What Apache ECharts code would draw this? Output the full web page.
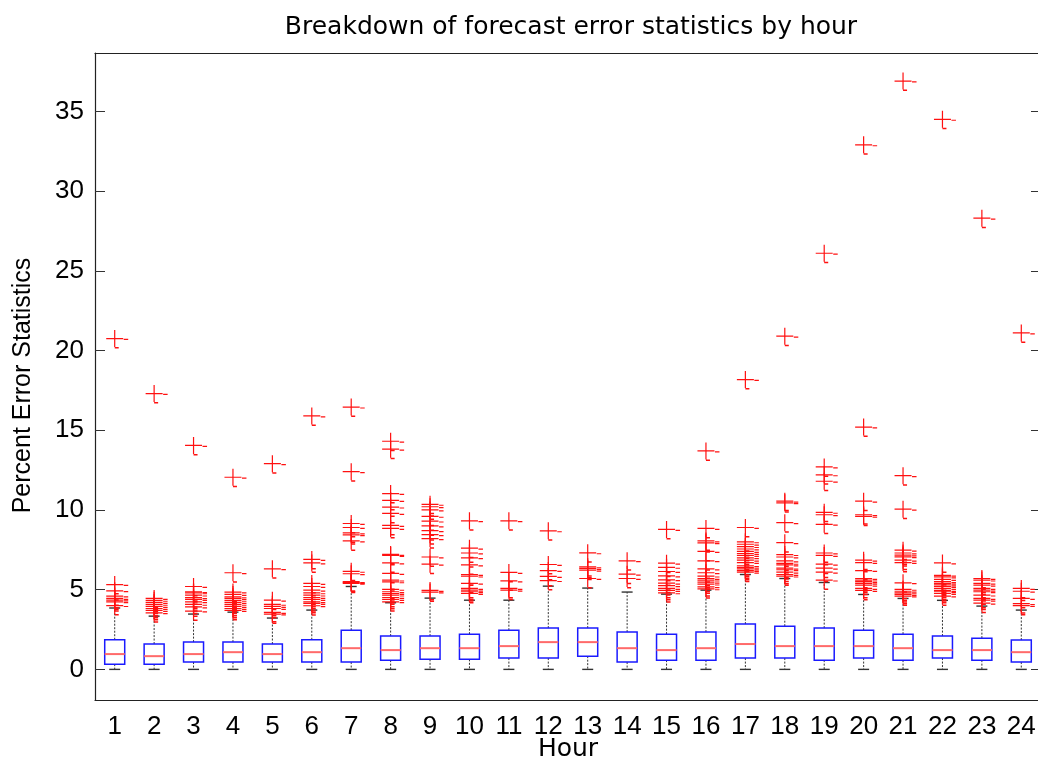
<!DOCTYPE html>
<html>
<head>
<meta charset="utf-8">
<script src="https://cdn.jsdelivr.net/npm/echarts@6/dist/echarts.min.js"></script>
<style>
html,body{margin:0;padding:0;background:#fff;width:1038px;height:763px;overflow:hidden;}
#chart{width:1038px;height:763px;overflow:hidden;}
</style>
</head>
<body>
<div id="chart"></div>
<script>
const hours = ['1','2','3','4','5','6','7','8','9','10','11','12','13','14','15','16','17','18','19','20','21','22','23','24'];
const yTicks = [0, 5, 10, 15, 20, 25, 30, 35];
const whiskerLow = [0,0,0,0,0,0,0,0,0,0,0,0,0,0,0,0,0,0,0,0,0,0,0,0];
const q1 = [0.33,0.33,0.46,0.46,0.46,0.46,0.46,0.58,0.63,0.63,0.71,0.71,0.83,0.46,0.58,0.58,0.71,0.71,0.58,0.71,0.58,0.71,0.58,0.46];
const medians = [0.96,0.83,0.96,1.08,0.96,1.08,1.33,1.21,1.33,1.33,1.46,1.71,1.71,1.33,1.21,1.33,1.59,1.46,1.46,1.46,1.33,1.21,1.21,1.08];
const q3 = [1.86,1.59,1.71,1.71,1.59,1.86,2.46,2.09,2.09,2.21,2.46,2.59,2.59,2.34,2.21,2.34,2.84,2.71,2.59,2.46,2.21,2.09,1.96,1.84];
const whiskerHigh = [3.85,3.34,3.47,3.59,3.22,3.72,5.2,4.18,4.47,4.34,4.34,5.22,5.1,4.85,4.72,4.97,5.95,5.7,5.45,4.7,4.45,4.33,3.97,3.72];
const outliers = [
  [20.75, 5.32, 4.93, 4.6, 4.45, 4.35, 4.24, 4.0],
  [17.3, 4.45, 4.33, 4.2, 4.08, 3.95, 3.82, 3.7, 3.55],
  [14.05, 5.2, 4.87, 4.8, 4.66, 4.5, 4.39, 4.24, 4.08, 3.92, 3.66],
  [12.05, 6.06, 4.85, 4.7, 4.55, 4.45, 4.33, 4.2, 4.08, 3.95, 3.82, 3.7],
  [12.9, 6.31, 4.34, 4.08, 3.95, 3.82, 3.57, 3.47],
  [15.9, 6.9, 6.68, 5.39, 5.2, 4.97, 4.8, 4.66, 4.51, 4.39, 4.24, 4.14, 3.99],
  [16.45, 12.4, 9.15, 8.9, 8.56, 8.44, 8.06, 6.15, 6.0, 5.5, 5.45, 5.4],
  [14.31, 13.81, 11.03, 10.6, 10.18, 9.78, 9.03, 8.84, 7.21, 7.15, 6.68, 6.02, 5.6, 5.49, 5.02, 4.87, 4.76, 4.66, 4.51, 4.39, 4.24],
  [10.35, 10.2, 10.0, 9.6, 9.3, 9.0, 8.7, 8.45, 8.2, 7.05, 6.6, 4.95, 4.85],
  [9.32, 7.6, 7.3, 7.0, 6.55, 5.95, 5.85, 5.4, 5.08, 4.97, 4.87, 4.76],
  [9.32, 6.08, 5.55, 5.08, 4.97],
  [8.69, 6.58, 6.2, 5.83, 5.57],
  [7.31, 6.43, 6.33, 6.22, 5.7],
  [6.81, 5.97, 5.7],
  [8.78, 6.66, 6.4, 6.14, 5.86, 5.62, 5.41, 5.25, 5.08, 4.95, 4.8],
  [13.7, 8.84, 8.06, 7.94, 7.4, 6.81, 6.3, 6.06, 5.85, 5.7, 5.6, 5.47, 5.35, 5.18, 5.05],
  [18.18, 8.9, 8.0, 7.85, 7.7, 7.55, 7.4, 7.27, 7.15, 7.0, 6.85, 6.7, 6.5, 6.4, 6.3, 6.2, 6.1],
  [20.9, 10.55, 10.45, 9.2, 7.95, 7.2, 7.05, 6.8, 6.65, 6.55, 6.35, 6.25, 6.1, 5.95, 5.85],
  [26.1, 12.7, 12.2, 11.8, 9.85, 9.7, 9.1, 7.3, 7.15, 6.6, 6.35, 6.1, 5.6],
  [32.9, 15.2, 10.55, 9.7, 9.6, 6.85, 6.7, 6.2, 5.7, 5.6, 5.5, 5.4, 5.28, 5.08, 4.95],
  [36.9, 12.15, 10.05, 7.48, 7.3, 7.17, 7.06, 6.85, 6.7, 5.43, 5.02, 4.9, 4.8, 4.7, 4.6],
  [34.5, 6.68, 5.9, 5.8, 5.64, 5.5, 5.4, 5.3, 5.2, 5.08, 4.95, 4.87, 4.76, 4.6],
  [28.3, 5.7, 5.6, 5.4, 5.28, 5.08, 4.97, 4.87, 4.66, 4.45, 4.34, 4.15],
  [21.1, 5.08, 4.9, 4.45, 4.12, 4.0]
];

const boxData = hours.map((h, i) => [i, whiskerLow[i], q1[i], medians[i], q3[i], whiskerHigh[i]]);
const outlierData = [];
outliers.forEach((arr, i) => arr.forEach(v => outlierData.push([i, v])));

const FONT = "'Liberation Sans', Arial, Helvetica, sans-serif";
const WIDE = "'DejaVu Sans', 'Liberation Sans', sans-serif";
const plusPath = 'path://M0,7.9L17,7.9L17,9.1L0,9.1Z M7.9,0L9.1,0L9.1,17L7.9,17Z M17.5,8.8L22,8.8L22,10L17.5,10Z M8.5,17L12.5,17L12.5,18.5L8.5,18.5Z';
const AXIS_LINE = {show: true, onZero: false, lineStyle: {color: '#222', width: 1.2}};

const chart = echarts.init(document.getElementById('chart'), null, {renderer: 'canvas', width: 1038, height: 763});
chart.setOption({
  backgroundColor: '#ffffff',
  animation: false,
  title: {
    text: 'Breakdown of forecast error statistics by hour',
    left: 566, top: 10, textAlign: 'center',
    textStyle: {fontFamily: WIDE, fontSize: 25, fontWeight: 'normal', color: '#000'}
  },
  grid: {
    left: 95, width: 946, top: 53, bottom: 63,
    outerBoundsMode: 'none', containLabel: false, show: false
  },
  xAxis: [{
    type: 'category', data: hours, boundaryGap: true, position: 'bottom',
    name: 'Hour', nameLocation: 'middle', nameGap: 37, nameMoveOverlap: false,
    nameTextStyle: {fontFamily: WIDE, fontSize: 25, color: '#000'},
    axisLine: AXIS_LINE, axisTick: {show: false},
    axisLabel: {fontFamily: FONT, fontSize: 26, color: '#000', margin: 14, interval: 0},
    splitLine: {show: false}
  }, {
    type: 'category', data: hours, boundaryGap: true, position: 'top',
    axisLine: AXIS_LINE, axisTick: {show: false}, axisLabel: {show: false},
    splitLine: {show: false}
  }],
  yAxis: [{
    type: 'value', min: -1.92, max: 38.66, position: 'left',
    name: 'Percent Error Statistics', nameLocation: 'middle', nameGap: 59, nameMoveOverlap: false,
    nameTextStyle: {fontFamily: FONT, fontSize: 25, color: '#000', padding: [0, 18, 0, 0]},
    axisLine: AXIS_LINE,
    axisTick: {show: true, inside: true, length: 10, customValues: yTicks, lineStyle: {color: '#333'}},
    axisLabel: {fontFamily: FONT, fontSize: 26, color: '#000', margin: 11, customValues: yTicks, padding: [4, 0, 0, 0]},
    splitLine: {show: false}
  }, {
    type: 'value', min: -1.92, max: 38.66, position: 'right',
    axisLine: {show: false},
    axisTick: {show: true, inside: true, length: 10, customValues: yTicks, lineStyle: {color: '#333'}},
    axisLabel: {show: false},
    splitLine: {show: false}
  }],
  series: [{
    type: 'custom',
    xAxisIndex: 0, yAxisIndex: 0,
    data: boxData,
    encode: {x: 0, y: [1, 2, 3, 4, 5]},
    renderItem: function (params, api) {
      const i = api.value(0);
      const xc = api.coord([i, 0])[0];
      const yLow = api.coord([i, api.value(1)])[1];
      const yQ1 = api.coord([i, api.value(2)])[1];
      const yMed = api.coord([i, api.value(3)])[1];
      const yQ3 = api.coord([i, api.value(4)])[1];
      const yHigh = api.coord([i, api.value(5)])[1];
      const half = 10, capHalf = 5.5;
      const wStyle = {stroke: '#333', lineWidth: 1, lineDash: [2, 1.5]};
      const cStyle = {stroke: '#333', lineWidth: 1.4};
      return {
        type: 'group',
        children: [
          {type: 'line', shape: {x1: xc, y1: yQ3, x2: xc, y2: yHigh}, style: wStyle},
          {type: 'line', shape: {x1: xc, y1: yQ1, x2: xc, y2: yLow}, style: wStyle},
          {type: 'line', shape: {x1: xc - capHalf, y1: yHigh, x2: xc + capHalf, y2: yHigh}, style: cStyle},
          {type: 'line', shape: {x1: xc - capHalf, y1: yLow, x2: xc + capHalf, y2: yLow}, style: cStyle},
          {type: 'rect', shape: {x: xc - half, y: yQ3, width: 2 * half, height: yQ1 - yQ3},
           style: {fill: 'none', stroke: '#1a1aff', lineWidth: 1.5}},
          {type: 'line', shape: {x1: xc - half, y1: yMed, x2: xc + half, y2: yMed},
           style: {stroke: '#ff6a6a', lineWidth: 2}}
        ]
      };
    },
    z: 2
  }, {
    type: 'scatter',
    xAxisIndex: 0, yAxisIndex: 0,
    data: outlierData,
    symbol: plusPath,
    symbolSize: [22, 18.5],
    symbolOffset: [2.5, 0.75],
    itemStyle: {color: '#ff1010', opacity: 1},
    z: 3
  }]
});
</script>
</body>
</html>
